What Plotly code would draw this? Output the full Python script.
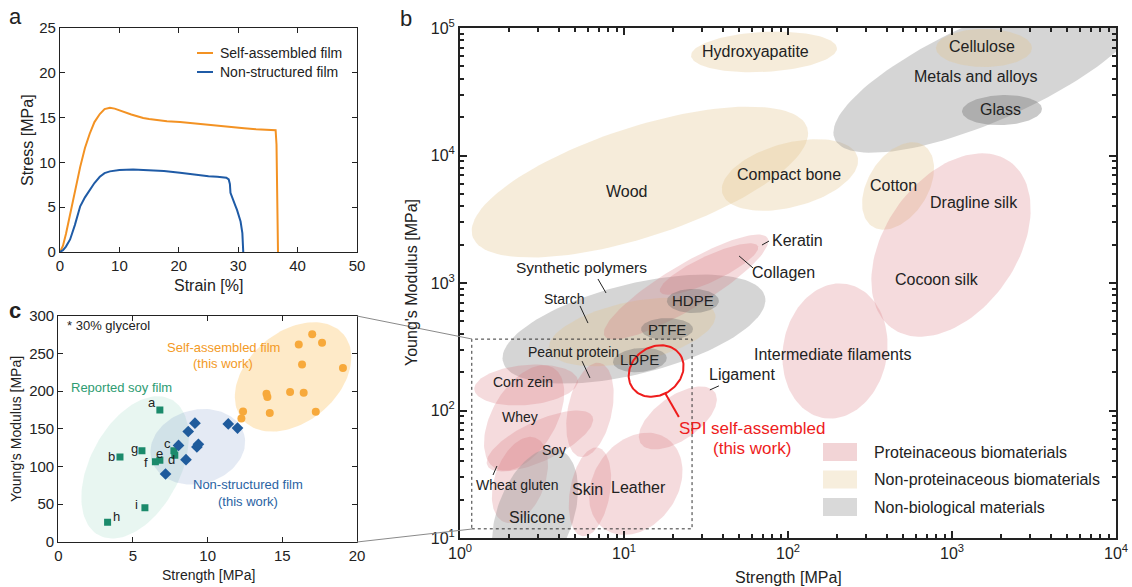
import numpy as np
import plotly.graph_objects as go

W, H = 1132, 587
FONT = "Arial, Liberation Sans, sans-serif"
INK = "#222222"

# ---------------- Panel a : stress-strain curves ----------------
sa_strain = [0, 0.5, 1, 1.7, 2.5, 3.4, 4.2, 5, 5.8, 6.7, 7.5, 8.4, 9.2, 10, 11, 12, 13, 14, 15, 16,
             18, 20.2, 22.5, 25.2, 27, 29.1, 31, 33, 35, 36.3, 36.45, 36.55, 36.65, 36.7]
sa_stress = [0, 0.7, 2.0, 4.3, 6.8, 9.5, 11.6, 13.2, 14.5, 15.4, 15.95, 16.1, 16.0, 15.8, 15.6, 15.35,
             15.15, 14.95, 14.85, 14.75, 14.6, 14.5, 14.35, 14.15, 14.0, 13.9, 13.8, 13.7, 13.65, 13.6,
             12.0, 6.0, 2.0, 0]
ns_strain = [0, 0.5, 1, 1.7, 2.5, 3.4, 4.2, 5, 5.8, 6.7, 7.5, 8.4, 10, 12.3, 15.1, 17.5, 20.2, 22,
             23.5, 25, 26.5, 28, 28.4, 28.6, 28.7, 29.1, 29.5, 29.8, 30.2, 30.4, 30.7, 30.8, 30.85]
ns_stress = [0, 0.2, 0.6, 1.4, 3.0, 5.1, 6.1, 6.9, 7.7, 8.4, 8.8, 9.0, 9.15, 9.2, 9.15, 9.05, 8.85,
             8.7, 8.5, 8.45, 8.4, 8.3, 8.1, 7.6, 6.6, 5.8, 5.2, 4.7, 3.9, 3.4, 2.1, 0.5, 0]

# ---------------- Panel c : strength vs modulus ----------------
soy_labels = ["a", "b", "c", "d", "e", "f", "g", "h", "i"]
soy_strength = [6.8, 4.13, 7.74, 7.8, 6.8, 6.5, 5.6, 3.3, 5.8]
soy_modulus = [175, 112.6, 120.9, 115, 108.4, 106.2, 120.9, 26, 45]
ns_strength = [7.18, 8.05, 8.55, 8.7, 9.15, 9.28, 9.38, 11.38, 12.0]
ns_modulus = [90, 128, 109, 146.5, 157.5, 126, 129.5, 156.5, 151]
sa_strength = [17.0, 16.1, 17.66, 16.32, 19.06, 13.94, 14.0, 15.52, 16.43, 12.37, 12.26, 14.16, 17.24]
sa_modulus = [275.6, 262, 264.6, 235.4, 231, 196.5, 192.5, 199, 198, 173, 163.7, 171, 172.6]

# group ellipses in panel c: centre (strength, modulus), semi-axes (px), angle (deg)
c_groups = ["Reported soy film", "Non-structured film", "Self-assembled film"]
c_cx = [5.14, 9.34, 15.72]
c_cy = [98.8, 126.1, 219.0]
c_a = [77, 48, 66]
c_b = [45, 37, 45]
c_ang = [62, 15, 40]

# ---------------- Panel b : Ashby-type map ----------------
b_names = ["Wood", "Hydroxyapatite", "Compact bone", "Metals and alloys", "Cellulose", "Glass",
           "Cotton", "Silk", "Intermediate filaments", "Synthetic polymers", "Starch", "Keratin",
           "Collagen", "HDPE", "PTFE", "LDPE", "Corn zein", "Peanut protein", "Whey", "Soy",
           "Wheat gluten", "Silicone", "Skin", "Leather", "Ligament"]
b_class = ["tan", "tan", "tan", "gray", "tan", "dark", "tan", "pink", "pink", "gray", "tan", "pink",
           "pink", "dark", "dark", "dark", "pink", "pink", "pink", "pink", "pink", "gray", "pink",
           "pink", "pink"]
b_strength = [12.5, 71.4, 102.8, 1706, 1567, 2018, 469, 986, 193.5, 11.5, 11.2, 23.9, 33.0, 26.3,
              18.3, 12.5, 2.53, 6.2, 2.46, 3.07, 2.32, 2.87, 6.2, 11.8, 21.3]
b_modulus = [6190, 64900, 7030, 46900, 69700, 22700, 5770, 1986, 293, 435, 413, 931, 1288, 723, 435,
             249, 158.5, 101, 87.4, 57.7, 28.5, 15.1, 23.0, 26.6, 87.4]
b_major = [176, 73, 70, 170, 48, 40, 48, 102, 68, 135, 85, 95, 54, 26, 26, 27, 52, 48, 58, 58, 45,
           70, 45, 55, 45]
b_minor = [55, 20, 32, 50, 19, 15, 30, 66, 52, 45, 30, 22, 13, 12, 11, 12, 20, 22, 32, 20, 25, 38,
           20, 42, 22]
b_angle = [18, 3, 15, 24, 0, 2, 58, 55, 80, 14, 12, 31, 25, 0, 0, 5, 5, 78, 60, 25, 70, 70, 80, 55, 35]

spi_strength, spi_modulus, spi_major, spi_minor, spi_angle = 15.7, 204, 29, 24, 35

b_label_text = ["Hydroxyapatite", "Wood", "Compact bone", "Cellulose", "Metals and alloys", "Glass",
                "Cotton", "Dragline silk", "Cocoon silk", "Keratin", "Collagen", "Synthetic polymers",
                "Starch", "HDPE", "PTFE", "LDPE", "Peanut protein", "Corn zein", "Whey", "Soy",
                "Wheat gluten", "Skin", "Leather", "Silicone", "Intermediate filaments", "Ligament"]
b_label_s = [63, 10.4, 101, 1524, 1400, 1963, 437, 1362, 810, 113.5, 93.3, 5.47, 4.31, 26.3, 18.3,
             12.5, 4.89, 2.42, 2.32, 3.74, 2.23, 6.03, 12.3, 2.95, 188, 52.4]
b_label_e = [66000, 5180, 7160, 71000, 41300, 22750, 5770, 4315, 1057, 2173, 1219, 1334, 750, 723,
             435, 249, 288, 167, 89, 49, 26.1, 23.8, 25.1, 14.4, 277, 190]
b_label_size = [16, 16, 16, 16, 16, 16, 16, 16, 16, 16, 16, 15.5, 14, 15, 15, 15, 14, 14, 14, 14,
                14, 16, 16, 16, 16, 16]

# leader lines (start, end) in data units
lead_s = [(6.94, 7.77), (5.39, 6.03), (5.55, 6.2), (1.59, 1.68), (69.4, 76.6), (50.3, 61.2),
          (33.4, 37.9)]
lead_e = [(1075, 835), (661, 485), (244, 180), (31.2, 36.7), (1986, 2133), (1629, 1312), (145, 156)]
spi_lead_s = (17.8, 21.6)
spi_lead_e = (137, 89)

zoom_box_s = (1.18, 26.0)
zoom_box_e = (11.8, 363)

legend_b = ["Proteinaceous biomaterials", "Non-proteinaceous biomaterials", "Non-biological materials"]
legend_b_cls = ["pink", "tan", "gray"]

FILL = {"pink": "rgba(214,110,118,0.25)", "tan": "rgba(226,196,140,0.32)",
        "gray": "rgba(150,150,150,0.40)", "dark": "rgba(105,105,105,0.36)"}
SWATCH = {"pink": "#f2d4d6", "tan": "#f7eedd", "gray": "#d9d9d9"}

# ---------------- layout geometry (pixels) ----------------
A_X = (60, 357); A_Y = (28, 252)
B_X = (460, 1116); B_Y = (28, 538)
C_X = (58.3, 357); C_Y = (316, 541.7)


def dom_x(p):
    return [p[0] / W, p[1] / W]


def dom_y(p):
    return [1 - p[1] / H, 1 - p[0] / H]


kxb = (B_X[1] - B_X[0]) / 4.0
kyb = (B_Y[1] - B_Y[0]) / 4.0
kxc = (C_X[1] - C_X[0]) / 20.0
kyc = (C_Y[1] - C_Y[0]) / 300.0

t = np.linspace(0, 2 * np.pi, 120)


def ell_offsets(a, b, ang):
    th = np.radians(ang)
    dx = a * np.cos(t) * np.cos(th) - b * np.sin(t) * np.sin(th)
    dy = a * np.cos(t) * np.sin(th) + b * np.sin(t) * np.cos(th)
    return dx, dy


fig = go.Figure()

# ---- panel a traces
fig.add_trace(go.Scatter(x=sa_strain, y=sa_stress, mode="lines", line=dict(color="#f39223", width=2),
                         xaxis="x", yaxis="y", hoverinfo="skip"))
fig.add_trace(go.Scatter(x=ns_strain, y=ns_stress, mode="lines", line=dict(color="#1f5ba6", width=2),
                         xaxis="x", yaxis="y", hoverinfo="skip"))

# ---- panel c ellipses
c_fill = ["rgba(150,215,190,0.22)", "rgba(120,150,200,0.20)", "rgba(252,200,110,0.38)"]
for i in range(3):
    dx, dy = ell_offsets(c_a[i], c_b[i], c_ang[i])
    fig.add_trace(go.Scatter(x=c_cx[i] + dx / kxc, y=c_cy[i] + dy / kyc, mode="lines", fill="toself",
                             fillcolor=c_fill[i], line=dict(width=0), xaxis="x3", yaxis="y3",
                             hoverinfo="skip"))
fig.add_trace(go.Scatter(x=soy_strength, y=soy_modulus, mode="markers",
                         marker=dict(symbol="square", size=7, color="#1b8a6b"),
                         xaxis="x3", yaxis="y3", hoverinfo="skip"))
fig.add_trace(go.Scatter(x=ns_strength, y=ns_modulus, mode="markers",
                         marker=dict(symbol="diamond", size=9, color="#1f5b9c"),
                         xaxis="x3", yaxis="y3", hoverinfo="skip"))
fig.add_trace(go.Scatter(x=sa_strength, y=sa_modulus, mode="markers",
                         marker=dict(symbol="circle", size=8, color="#f7a93b"),
                         xaxis="x3", yaxis="y3", hoverinfo="skip"))

# ---- panel b ellipses
for i in range(len(b_names)):
    dx, dy = ell_offsets(b_major[i], b_minor[i], b_angle[i])
    xs = 10 ** (np.log10(b_strength[i]) + dx / kxb)
    ys = 10 ** (np.log10(b_modulus[i]) + dy / kyb)
    fig.add_trace(go.Scatter(x=xs, y=ys, mode="lines", fill="toself", fillcolor=FILL[b_class[i]],
                             line=dict(width=0), xaxis="x2", yaxis="y2", hoverinfo="skip",
                             name=b_names[i]))

# SPI red ellipse
dx, dy = ell_offsets(spi_major, spi_minor, spi_angle)
fig.add_trace(go.Scatter(x=10 ** (np.log10(spi_strength) + dx / kxb),
                         y=10 ** (np.log10(spi_modulus) + dy / kyb), mode="lines",
                         line=dict(color="#ee1c1c", width=2), xaxis="x2", yaxis="y2", hoverinfo="skip"))
fig.add_trace(go.Scatter(x=list(spi_lead_s), y=list(spi_lead_e), mode="lines",
                         line=dict(color="#ee1c1c", width=2), xaxis="x2", yaxis="y2", hoverinfo="skip"))

# leaders
for s, e in zip(lead_s, lead_e):
    fig.add_trace(go.Scatter(x=list(s), y=list(e), mode="lines", line=dict(color=INK, width=1),
                             xaxis="x2", yaxis="y2", hoverinfo="skip"))

# zoom box
fig.add_trace(go.Scatter(x=[zoom_box_s[0], zoom_box_s[1], zoom_box_s[1], zoom_box_s[0], zoom_box_s[0]],
                         y=[zoom_box_e[0], zoom_box_e[0], zoom_box_e[1], zoom_box_e[1], zoom_box_e[0]],
                         mode="lines", line=dict(color="#333333", width=1, dash="dot"),
                         xaxis="x2", yaxis="y2", hoverinfo="skip"))

# ---------------- axes ----------------
common = dict(showgrid=False, zeroline=False, showline=True, linecolor=INK, ticks="inside",
              tickcolor=INK, mirror="allticks", automargin=False,
              tickfont=dict(family=FONT, size=15, color=INK))

minor_vals = [m * 10 ** d for d in range(0, 5) for m in range(2, 10)]

layout = dict(
    width=W, height=H, autosize=False,
    margin=dict(l=0, r=0, t=0, b=0, pad=0, autoexpand=False),
    paper_bgcolor="white", plot_bgcolor="white",
    showlegend=False, font=dict(family=FONT, color=INK),
    xaxis=dict(domain=dom_x(A_X), range=[0, 50], dtick=10, anchor="y", ticklen=5, linewidth=1.2, **common),
    yaxis=dict(domain=dom_y(A_Y), range=[0, 25], dtick=5, anchor="x", ticklen=5, linewidth=1.2, **common),
    xaxis3=dict(domain=dom_x(C_X), range=[0, 20], dtick=5, anchor="y3", ticklen=5, linewidth=1.2, **common),
    yaxis3=dict(domain=dom_y(C_Y), range=[0, 300], dtick=50, anchor="x3", ticklen=5, linewidth=1.2, **common),
)
b_common = dict(common)
b_common["tickfont"] = dict(family=FONT, size=16, color=INK)
layout["xaxis2"] = dict(domain=dom_x(B_X), type="log", range=[0, 4], anchor="y2", ticklen=7, tickwidth=1.5,
                        linewidth=2, tickvals=[1, 10, 100, 1000, 10000],
                        ticktext=["10<sup>%d</sup>" % k for k in range(0, 5)],
                        minor=dict(ticks="inside", ticklen=4, tickcolor=INK, tickvals=minor_vals, showgrid=False),
                        **b_common)
layout["yaxis2"] = dict(domain=dom_y(B_Y), type="log", range=[1, 5], anchor="x2", ticklen=7, tickwidth=1.5,
                        linewidth=2, tickvals=[10, 100, 1000, 10000, 100000],
                        ticktext=["10<sup>%d</sup>" % k for k in range(1, 6)],
                        minor=dict(ticks="inside", ticklen=4, tickcolor=INK,
                                   tickvals=[m * 10 ** d for d in range(1, 5) for m in range(2, 10)],
                                   showgrid=False),
                        **b_common)
fig.update_layout(**layout)

ann = []


def paper(px, py):
    return px / W, 1 - py / H


def add_text(px, py, text, size, color=INK, xanchor="center", textangle=0, bold=False):
    x, y = paper(px, py)
    if bold:
        text = "<b>%s</b>" % text
    ann.append(dict(x=x, y=y, xref="paper", yref="paper", text=text, showarrow=False, xanchor=xanchor,
                    yanchor="middle", textangle=textangle, font=dict(family=FONT, size=size, color=color)))


# panel letters
add_text(15, 16, "a", 22)
add_text(406, 18, "b", 22)
add_text(15, 310, "c", 22, bold=True)

# axis titles
add_text(208, 285, "Strain [%]", 16)
add_text(28, 140, "Stress [MPa]", 16, textangle=-90)
add_text(208, 575, "Strength [MPa]", 14)
add_text(16, 429, "Young's Modulus [MPa]", 14, textangle=-90)
add_text(788, 577, "Strength [MPa]", 16)
add_text(411, 283, "Young's Modulus [MPa]", 16, textangle=-90)

# panel a legend
leg_a = [("Self-assembled film", "#f39223", 53), ("Non-structured film", "#1f5ba6", 72)]
shapes = []
for txt, col, py in leg_a:
    x0, y0 = paper(197, py)
    x1, _ = paper(213, py)
    shapes.append(dict(type="line", xref="paper", yref="paper", x0=x0, x1=x1, y0=y0, y1=y0,
                       line=dict(color=col, width=2)))
    add_text(218, py, txt, 14, xanchor="left")

# panel c texts
add_text(65, 325, "* 30% glycerol", 13, xanchor="left")
add_text(223, 347, "Self-assembled film", 13, color="#f39a26")
add_text(223, 363, "(this work)", 13, color="#f39a26")
add_text(121, 387, "Reported soy film", 13, color="#2e9c72")
add_text(248, 484, "Non-structured film", 13, color="#2a63a3")
add_text(248, 501, "(this work)", 13, color="#2a63a3")

soy_shift = {"a": (-8, 8), "b": (-8, 0), "c": (-6, 7), "d": (-3, -4), "e": (0, 7), "f": (-9, -1),
             "g": (-7, 2), "h": (9, 6), "i": (-8, 3)}
for lab, s, e in zip(soy_labels, soy_strength, soy_modulus):
    dxs, dys = soy_shift[lab]
    ann.append(dict(x=s, y=e, xref="x3", yref="y3", text=lab, showarrow=False, xshift=dxs, yshift=dys,
                    font=dict(family=FONT, size=13, color=INK)))

# panel b labels
for txt, s, e, sz in zip(b_label_text, b_label_s, b_label_e, b_label_size):
    ann.append(dict(x=np.log10(s), y=np.log10(e), xref="x2", yref="y2", text=txt, showarrow=False,
                    font=dict(family=FONT, size=sz, color=INK)))
ann.append(dict(x=np.log10(60.3), y=np.log10(72.9), xref="x2", yref="y2", text="SPI self-assembled",
                showarrow=False, font=dict(family=FONT, size=17, color="#ee1c1c")))
ann.append(dict(x=np.log10(60.3), y=np.log10(50.8), xref="x2", yref="y2", text="(this work)",
                showarrow=False, font=dict(family=FONT, size=17, color="#ee1c1c")))

# panel b legend
for k, (txt, cls) in enumerate(zip(legend_b, legend_b_cls)):
    py = 452 + k * 27.5
    x0, y0 = paper(823, py - 9)
    x1, y1 = paper(857, py + 9)
    shapes.append(dict(type="rect", xref="paper", yref="paper", x0=x0, x1=x1, y0=y1, y1=y0,
                       fillcolor=SWATCH[cls], line=dict(width=0)))
    add_text(872, py, txt, 16, xanchor="left")

# connector lines from panel c to zoom box
for (pa, pb) in [((357, 316), (472, 339)), ((357, 542), (472, 529))]:
    x0, y0 = paper(*pa)
    x1, y1 = paper(*pb)
    shapes.append(dict(type="line", xref="paper", yref="paper", x0=x0, y0=y0, x1=x1, y1=y1,
                       line=dict(color="#8a8a8a", width=1)))

fig.update_layout(annotations=ann, shapes=shapes)
fig.write_html("out.html", config={"displayModeBar": False},
               post_script="document.body.style.margin='0px';document.body.style.padding='0px';"
                           "document.body.style.overflow='hidden';")
